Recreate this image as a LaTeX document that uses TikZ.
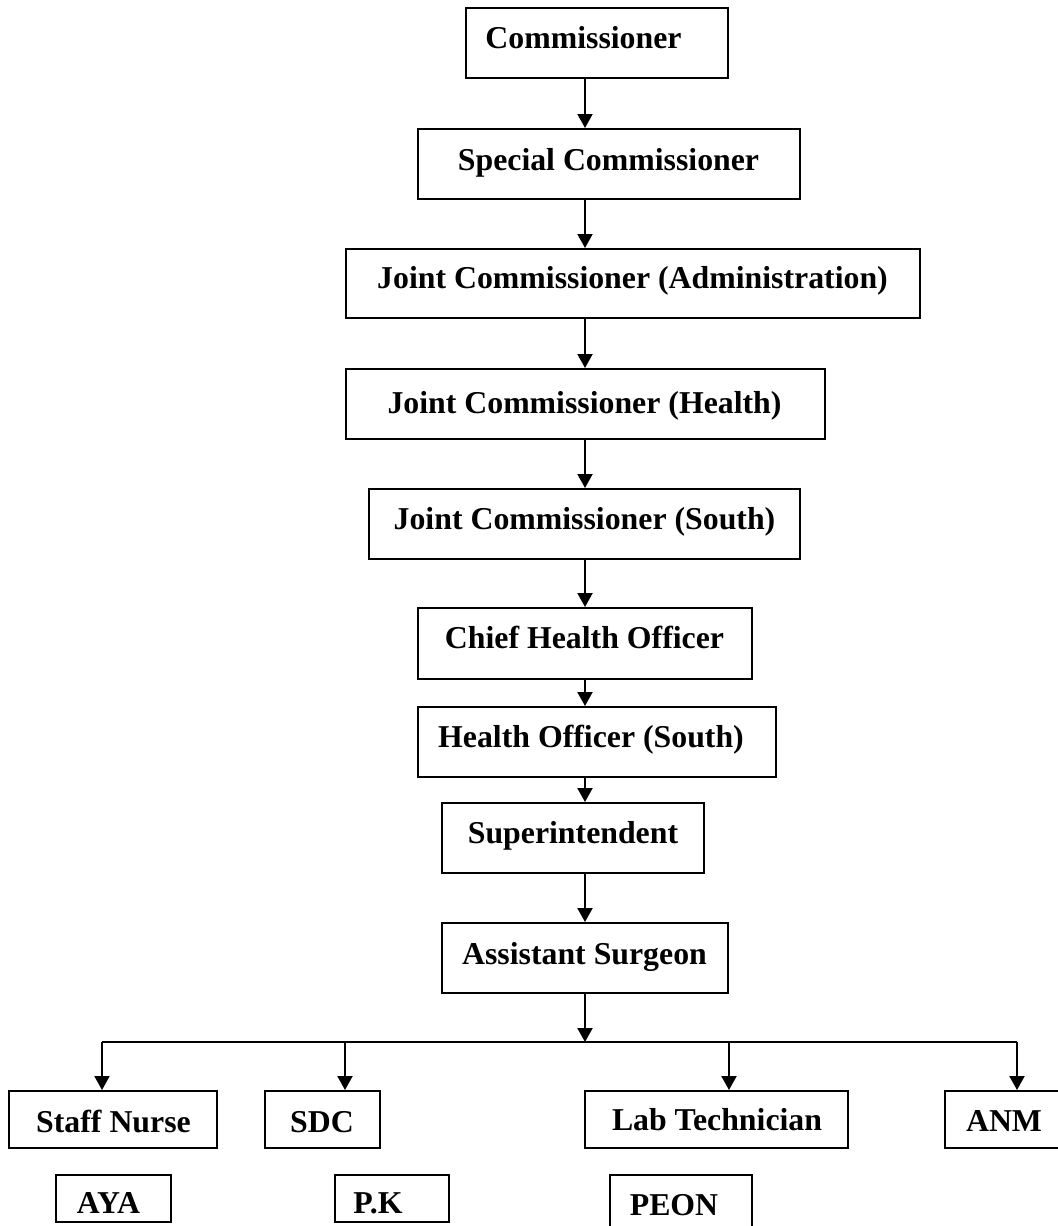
\documentclass[tikz,border=0pt]{standalone}
\usepackage{fontspec}
\setmainfont{Liberation Serif}
\usetikzlibrary{arrows.meta,fit}
\begin{document}
\begin{tikzpicture}[x=0.5pt,y=-0.5pt,
  box/.style={draw, line width=1pt, inner sep=0pt},
  lbl/.style={font=\fontsize{15.9}{19}\selectfont\bfseries, inner sep=0pt, anchor=base},
  arr/.style={line width=1pt, -{Triangle[length=7pt,width=7.5pt]}}]
\useasboundingbox (0,0) rectangle (1057,1226);
% boxes
\node[box, fit={(466,8) (728,78)}] (cm) {};
\node[box, fit={(418,129) (800,199)}] (sc) {};
\node[box, fit={(346,249) (920,318)}] (ja) {};
\node[box, fit={(346,369) (825,439)}] (jh) {};
\node[box, fit={(369,489) (800,559)}] (js) {};
\node[box, fit={(418,608) (752,679)}] (ch) {};
\node[box, fit={(418,707) (776,777)}] (ho) {};
\node[box, fit={(442,803) (704,873)}] (su) {};
\node[box, fit={(442,923) (728,993)}] (as) {};
\node[box, fit={(9,1091) (217,1148)}] (sn) {};
\node[box, fit={(265,1091) (380,1148)}] (sd) {};
\node[box, fit={(585,1091) (848,1148)}] (lt) {};
\node[box, fit={(945,1091) (1064,1148)}] (an) {};
\node[box, fit={(56,1175) (171,1222)}] (ay) {};
\node[box, fit={(335,1175) (449,1222)}] (pk) {};
\node[box, fit={(610,1175) (752,1232)}] (pe) {};
% labels
\node[lbl] (cm-t) at (583.5,48) {Commissioner};
\node[lbl] (sc-t) at (608.5,170) {Special Commissioner};
\node[lbl] (ja-t) at (632.5,288) {Joint Commissioner (Administration)};
\node[lbl] (jh-t) at (584.5,413) {Joint Commissioner (Health)};
\node[lbl] (js-t) at (584.5,529) {Joint Commissioner (South)};
\node[lbl] (ch-t) at (584.5,648) {Chief Health Officer};
\node[lbl] (ho-t) at (591,747) {Health Officer (South)};
\node[lbl] (su-t) at (573,843) {Superintendent};
\node[lbl] (as-t) at (584.5,964) {Assistant Surgeon};
\node[lbl] (sn-t) at (113.5,1132) {Staff Nurse};
\node[lbl] (sd-t) at (322,1132) {SDC};
\node[lbl] (lt-t) at (717,1130) {Lab Technician};
\node[lbl] (an-t) at (1004,1131) {ANM};
\node[lbl] (ay-t) at (108.5,1213) {AYA};
\node[lbl] (pk-t) at (378,1213) {P.K};
\node[lbl] (pe-t) at (674,1215) {PEON};
% chain connectors
\coordinate (ax) at (585,0);
\foreach \a/\b in {cm/sc, sc/ja, ja/jh, jh/js, js/ch, ch/ho, ho/su, su/as}
  \draw[arr] (\a.south -| ax) -- (\b.north -| ax);
% branch
\coordinate (bj) at (585,1042);
\coordinate (b1) at (102,1042);
\coordinate (b2) at (345,1042);
\coordinate (b3) at (729,1042);
\coordinate (b4) at (1017,1042);
\draw[arr] (as.south -| ax) -- (bj);
\draw[line width=1pt] (b1) -- (b4);
\draw[arr] (b1) -- (b1 |- sn.north);
\draw[arr] (b2) -- (b2 |- sd.north);
\draw[arr] (b3) -- (b3 |- lt.north);
\draw[arr] (b4) -- (b4 |- an.north);
\end{tikzpicture}
\end{document}
